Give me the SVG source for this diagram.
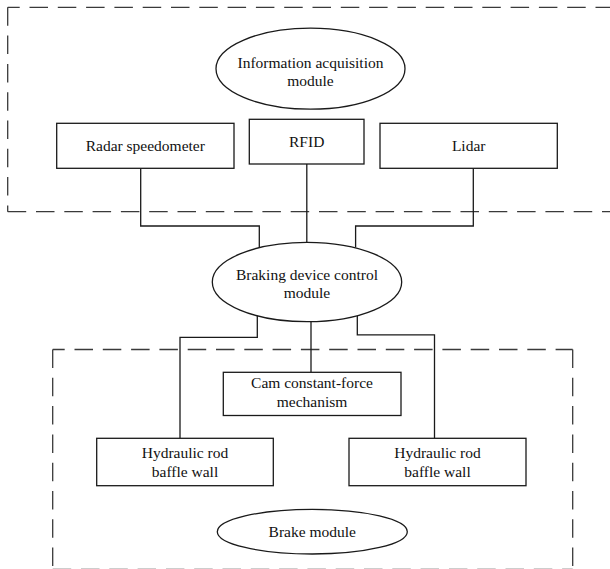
<svg xmlns="http://www.w3.org/2000/svg" width="610" height="569" viewBox="0 0 610 569">
<style>
.bg{fill:#fff}
.box{fill:#fff;stroke:#1a1a1a;stroke-width:1.3}
.dash{fill:none;stroke:#3a3a3a;stroke-width:1.3;stroke-dasharray:18.5 9.8}
.wire{fill:none;stroke:#1a1a1a;stroke-width:1.3}
.t{font-family:'Liberation Serif',Tinos,'Times New Roman',Times,'DejaVu Serif',serif;font-size:15.5px;fill:#111;text-anchor:middle}
</style>
<rect class="bg" x="0" y="0" width="610" height="569"/>
<g id="info-region">
<line class="dash" x1="7.7" y1="7.3" x2="7.7" y2="211.7"/>
<line class="dash" x1="7.7" y1="7.3" x2="612" y2="7.3" stroke-dashoffset="6.5"/>
<line class="dash" x1="7.7" y1="211.7" x2="612" y2="211.7"/>
</g>
<g id="brake-region">
<line class="dash" x1="52.7" y1="349.5" x2="52.7" y2="569.5"/>
<line class="dash" x1="572.7" y1="349.5" x2="572.7" y2="569.5"/>
<line class="dash" x1="52.7" y1="349.5" x2="572.7" y2="349.5" stroke-dashoffset="6.5"/>
<line class="dash" x1="52.7" y1="569.3" x2="572.7" y2="569.3"/>
</g>
<g id="connectors">
<polyline class="wire" points="140.7,168.3 140.7,226 259.3,226 259.3,247.7"/>
<polyline class="wire" points="306.8,164 306.8,242.4"/>
<polyline class="wire" points="473.3,168.3 473.3,226 355.6,226 355.6,247.6"/>
<polyline class="wire" points="257.3,315.8 257.3,337.3 180,337.3 180,438.3"/>
<polyline class="wire" points="311,321.6 311,372.3"/>
<polyline class="wire" points="357.3,315.8 357.3,334.8 434.5,334.8 434.5,438.3"/>
</g>
<g id="info-module" class="t" font-family="Liberation Serif, serif">
<ellipse class="box" cx="310.5" cy="68.7" rx="94.5" ry="40.5"/>
<text x="310.5" y="67.7">Information acquisition</text>
<text x="310.5" y="85.5">module</text>
</g>
<g id="radar" class="t" font-family="Liberation Serif, serif">
<rect class="box" x="56.7" y="123.3" width="177.3" height="45"/>
<text x="145.3" y="150.7">Radar speedometer</text>
</g>
<g id="rfid" class="t" font-family="Liberation Serif, serif">
<rect class="box" x="249.3" y="119.3" width="114.7" height="44.7"/>
<text x="306.7" y="146.7">RFID</text>
</g>
<g id="lidar" class="t" font-family="Liberation Serif, serif">
<rect class="box" x="380" y="123.3" width="177.3" height="45"/>
<text x="468.7" y="150.7">Lidar</text>
</g>
<g id="control-module" class="t" font-family="Liberation Serif, serif">
<ellipse class="box" cx="307" cy="282" rx="94.7" ry="39.7"/>
<text x="307" y="279.5">Braking device control</text>
<text x="307" y="297.5">module</text>
</g>
<g id="cam" class="t" font-family="Liberation Serif, serif">
<rect class="box" x="223.3" y="372.3" width="177.7" height="43.2"/>
<text x="312" y="388.3">Cam constant-force</text>
<text x="312" y="406.7">mechanism</text>
</g>
<g id="hydraulic-left" class="t" font-family="Liberation Serif, serif">
<rect class="box" x="96.7" y="438.3" width="176.6" height="47.4"/>
<text x="185" y="458.3">Hydraulic rod</text>
<text x="185" y="476.7">baffle wall</text>
</g>
<g id="hydraulic-right" class="t" font-family="Liberation Serif, serif">
<rect class="box" x="349" y="438.3" width="177" height="47.4"/>
<text x="437.5" y="458.3">Hydraulic rod</text>
<text x="437.5" y="476.7">baffle wall</text>
</g>
<g id="brake-module" class="t" font-family="Liberation Serif, serif">
<ellipse class="box" cx="312.3" cy="531.7" rx="95" ry="22.3"/>
<text x="312.3" y="536.7">Brake module</text>
</g>
</svg>
